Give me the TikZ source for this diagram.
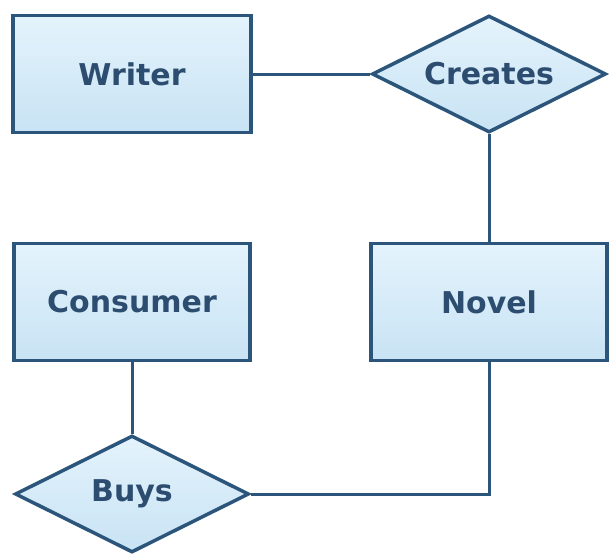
\documentclass[tikz,border=0pt]{standalone}
\usepackage{fontspec}
\setmainfont{DejaVu Sans}
\usetikzlibrary{shapes.geometric}
\definecolor{edge}{HTML}{2B557A}
\definecolor{txt}{HTML}{2C4D70}
\definecolor{filltop}{HTML}{E4F3FC}
\definecolor{fillbot}{HTML}{C8E3F4}
\tikzset{
  entity/.style={draw=edge, line width=3.5pt, rectangle, minimum width=238pt, minimum height=117pt,
    top color=filltop, bottom color=fillbot, inner sep=0pt, text=txt, font=\fontsize{30}{33}\selectfont\bfseries},
  relation/.style={draw=edge, line width=3.5pt, diamond, aspect=2, minimum width=234pt, minimum height=117pt,
    top color=filltop, bottom color=fillbot, inner sep=0pt, text=txt, font=\fontsize{30}{33}\selectfont\bfseries},
  link/.style={draw=edge, line width=3pt}
}
\begin{document}
\begin{tikzpicture}[x=1pt,y=-1pt]
\useasboundingbox (0,0) rectangle (609,554);
\node[entity] (writer) at (132,74) {Writer};
\node[relation] (creates) at (489,74) {Creates};
\node[entity, minimum width=236pt] (consumer) at (132,302) {Consumer};
\node[entity, minimum width=236pt] (novel) at (489,302) {Novel};
\node[relation] (buys) at (132,494) {Buys};
\draw[link] (writer.east) -- (creates.west);
\draw[link] (creates.south) -- (novel.north);
\draw[link] (consumer.south) -- (buys.north);
\draw[link] (buys.east) -| (novel.south);
\end{tikzpicture}
\end{document}
